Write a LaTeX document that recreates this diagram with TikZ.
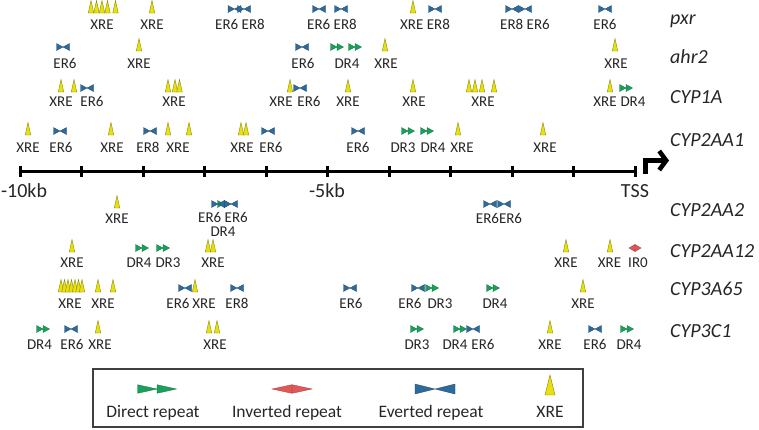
\documentclass[tikz,border=0pt]{standalone}
\usepackage{fontspec}
\setmainfont{Carlito}
\usetikzlibrary{arrows.meta}
\definecolor{xrey}{HTML}{E8E010}
\definecolor{xreo}{HTML}{8A8A00}
\definecolor{erb}{HTML}{2E6A9A}
\definecolor{ero}{HTML}{1F4A70}
\definecolor{drg}{HTML}{1AA05A}
\definecolor{dro}{HTML}{11703E}
\definecolor{irr}{HTML}{E05858}
\definecolor{iro}{HTML}{A03030}
\definecolor{txt}{HTML}{262626}
\tikzset{
  xrest/.style={fill=xrey,draw=xreo,line width=0.4pt},
  erst/.style={fill=erb,draw=ero,line width=0.3pt},
  drst/.style={fill=drg,draw=dro,line width=0.3pt},
  irst/.style={fill=irr,draw=iro,line width=0.3pt},
  xre/.pic={\filldraw[xrest] (-2.75,0) -- (2.75,0) -- (0,-12.5) -- cycle;},
  er/.pic={\filldraw[erst] (-6.5,-7.5) -- (0,-4) -- (-6.5,-0.5) -- cycle (6.5,-7.5) -- (0,-4) -- (6.5,-0.5) -- cycle;},
  dr/.pic={\filldraw[drst] (-6.5,-7.5) -- (0,-4) -- (-6.5,-0.5) -- cycle (0,-7.5) -- (6.5,-4) -- (0,-0.5) -- cycle;},
  ir/.pic={\filldraw[irst] (0,-7.5) -- (-6,-4) -- (0,-0.5) -- cycle (0,-7.5) -- (6,-4) -- (0,-0.5) -- cycle;},
  lab/.style={font=\fontsize{15}{16}\selectfont,anchor=base,inner sep=0pt,text=txt},
  gene/.style={font=\fontsize{20}{22}\selectfont\itshape,anchor=base west,inner sep=0pt,text=txt},
  axlab/.style={font=\fontsize{20}{22}\selectfont,anchor=base,inner sep=0pt,text=txt},
  leglab/.style={font=\fontsize{17.5}{19}\selectfont,anchor=base,inner sep=0pt,text=txt},
}
\newcommand\mxre[2]{\pic at (#1,#2) {xre};}
\newcommand\mer[2]{\pic at (#1,#2) {er};}
\newcommand\mdr[2]{\pic at (#1,#2) {dr};}
\newcommand\mir[2]{\pic at (#1,#2) {ir};}
\begin{document}
\begin{tikzpicture}[x=1pt,y=-1pt]
\useasboundingbox (0,0) rectangle (759,429);
% axis
\draw[line width=3.5pt] (20,171.5) -- (636,171.5);
\foreach \i in {0,...,10} \draw[line width=3pt] ({20+61.5*\i},166) -- ({20+61.5*\i},177);
\coordinate (tssa) at (645.5,173.5);
\coordinate (tssb) at (669,160.5);
\draw[line width=4.5pt,-{Straight Barb[length=7pt,width=19pt]}] (tssa) |- (tssb);
\node[axlab] (k10) at (24,197) {-10kb};
\node[axlab] (k5) at (327,197) {-5kb};
\node[axlab] (tss) at (635,197) {TSS};
% gene names
\node[gene] (g1) at (670,24) {pxr};
\node[gene] (g2) at (670,63) {ahr2};
\node[gene] (g3) at (670,103) {CYP1A};
\node[gene] (g4) at (670,146) {CYP2AA1};
\node[gene] (g5) at (670,216) {CYP2AA2};
\node[gene] (g6) at (670,257) {CYP2AA12};
\node[gene] (g7) at (670,295) {CYP3A65};
\node[gene] (g8) at (670,337) {CYP3C1};
% pxr
\mxre{91}{13}\mxre{96.5}{13}\mxre{102}{13}\mxre{107.5}{13}\mxre{115.5}{13}
\node[lab] (a1) at (102,29.5) {XRE};
\mxre{152}{13}
\node[lab] (a2) at (152,29.5) {XRE};
\mer{234.5}{13}\mer{244}{13}
\node[lab] (a3) at (240,29.5) {ER6 ER8};
\mer{319}{13}\mer{341}{13}
\node[lab] (a4) at (332,29.5) {ER6 ER8};
\mxre{413}{13}\mer{435}{13}
\node[lab] (a5) at (425,29.5) {XRE ER8};
\mer{512}{13}\mer{525}{13}
\node[lab] (a6) at (525,29.5) {ER8 ER6};
\mer{605}{13}
\node[lab] (a7) at (605,29.5) {ER6};
% ahr2
\mer{63}{51}
\node[lab] (b1) at (65,68) {ER6};
\mxre{139}{51}
\node[lab] (b2) at (139,68) {XRE};
\mer{302}{51}
\node[lab] (b3) at (303,68) {ER6};
\mdr{337}{51}\mdr{355}{51}
\node[lab] (b4) at (347,68) {DR4};
\mxre{385}{51}
\node[lab] (b5) at (386,68) {XRE};
\mxre{615}{51}
\node[lab] (b6) at (616,68) {XRE};
% CYP1A
\mxre{61}{92}\mxre{74}{92}\mer{87}{92}
\node[lab] (c1) at (61,106.5) {XRE};
\node[lab] (c2) at (92,106.5) {ER6};
\mxre{168}{92}\mxre{175}{92}\mxre{179.5}{92}
\node[lab] (c3) at (174,106.5) {XRE};
\mxre{290}{92}\mer{300}{92}
\node[lab] (c4) at (281,106.5) {XRE};
\node[lab] (c5) at (309,106.5) {ER6};
\mxre{348}{92}
\node[lab] (c6) at (348,106.5) {XRE};
\mxre{413}{92}
\node[lab] (c7) at (414,106.5) {XRE};
\mxre{469}{92}\mxre{475}{92}\mxre{482}{92}\mxre{494}{92}
\node[lab] (c8) at (483,106.5) {XRE};
\mxre{610}{92}\mdr{626}{92}
\node[lab] (c9) at (605,106.5) {XRE};
\node[lab] (c10) at (633,106.5) {DR4};
% CYP2AA1
\mxre{28}{135}
\node[lab] (d1) at (28,152) {XRE};
\mer{60}{135}
\node[lab] (d2) at (61,152) {ER6};
\mxre{111}{135}
\node[lab] (d3) at (112,152) {XRE};
\mer{150}{135}
\node[lab] (d4) at (148,152) {ER8};
\mxre{168}{135}\mxre{189}{135}
\node[lab] (d5) at (178,152) {XRE};
\mxre{241}{135}\mxre{246}{135}
\node[lab] (d6) at (242,152) {XRE};
\mer{268}{135}
\node[lab] (d7) at (271,152) {ER6};
\mer{358}{135}
\node[lab] (d8) at (358,152) {ER6};
\mdr{408}{135}\mdr{427}{135}
\node[lab] (d9) at (403,152) {DR3};
\node[lab] (d10) at (433,152) {DR4};
\mxre{458}{135}
\node[lab] (d11) at (462,152) {XRE};
\mxre{543}{135}
\node[lab] (d12) at (545,152) {XRE};
% CYP2AA2
\mxre{117}{208}
\node[lab] (e1) at (117,223) {XRE};
\mdr{224}{208}\mer{218}{208}\mer{231}{208}
\node[lab] (e2) at (223,222.5) {ER6 ER6};
\node[lab] (e3) at (223,236.5) {DR4};
\mer{490}{208}\mer{504}{208}
\node[lab] (e4) at (499,223) {ER6ER6};
% CYP2AA12
\mxre{72}{252}
\node[lab] (f1) at (72,267.5) {XRE};
\mdr{142}{252}\mdr{163}{252}
\node[lab] (f2) at (139,267.5) {DR4};
\node[lab] (f3) at (168,267.5) {DR3};
\mxre{208}{252}\mxre{213}{252}
\node[lab] (f4) at (213,267.5) {XRE};
\mxre{566}{252}
\node[lab] (f5) at (566,267.5) {XRE};
\mxre{610}{252}
\node[lab] (f6) at (609.5,267.5) {XRE};
\mir{635}{252}
\node[lab] (f7) at (638,267.5) {IR0};
% CYP3A65
\mxre{61}{292}\mxre{64.5}{292}\mxre{68}{292}\mxre{71.5}{292}\mxre{75}{292}\mxre{78.5}{292}\mxre{82}{292}
\node[lab] (h1) at (70,308) {XRE};
\mxre{98}{292}\mxre{113}{292}
\node[lab] (h2) at (103,308) {XRE};
\mer{185}{292}\mxre{195}{292}
\node[lab] (h3) at (178,308) {ER6};
\node[lab] (h4) at (204,308) {XRE};
\mer{237}{292}
\node[lab] (h5) at (237,308) {ER8};
\mer{350}{292}
\node[lab] (h6) at (351,308) {ER6};
\mer{418}{292}\mdr{432}{292}
\node[lab] (h7) at (410,308) {ER6};
\node[lab] (h8) at (440,308) {DR3};
\mdr{493}{292}
\node[lab] (h9) at (495,308) {DR4};
\mxre{583}{292}
\node[lab] (h10) at (583,308) {XRE};
% CYP3C1
\mdr{43}{333}\mer{71}{333}\mxre{98}{333}
\node[lab] (i1) at (39.5,349) {DR4};
\node[lab] (i2) at (72,349) {ER6};
\node[lab] (i3) at (100,349) {XRE};
\mxre{209}{333}\mxre{217}{333}
\node[lab] (i4) at (215,349) {XRE};
\mdr{417}{333}
\node[lab] (i5) at (417,349) {DR3};
\mdr{460}{333}\mer{473}{333}
\node[lab] (i6) at (455,349) {DR4};
\node[lab] (i7) at (483,349) {ER6};
\mxre{550}{333}
\node[lab] (i8) at (550,349) {XRE};
\mer{595}{333}
\node[lab] (i9) at (595,349) {ER6};
\mdr{627}{333}
\node[lab] (i10) at (629,349) {DR4};
% legend
\draw[line width=1.2pt,black!75] (93,369) rectangle (583,427);
\filldraw[drst] (137.5,384.7) -- (157,389) -- (137.5,393.3) -- cycle (157,384.7) -- (176.5,389) -- (157,393.3) -- cycle;
\filldraw[irst] (292,384.7) -- (272,389) -- (292,393.3) -- cycle (292,384.7) -- (312,389) -- (292,393.3) -- cycle;
\filldraw[erst] (415,384) -- (435,389) -- (415,394) -- cycle (455,384) -- (435,389) -- (455,394) -- cycle;
\filldraw[xrest] (545,395) -- (555,395) -- (550,375) -- cycle;
\node[leglab] (l1) at (153,417) {Direct repeat};
\node[leglab] (l2) at (287,417) {Inverted repeat};
\node[leglab] (l3) at (431,417) {Everted repeat};
\node[leglab] (l4) at (550,417) {XRE};
\end{tikzpicture}
\end{document}
